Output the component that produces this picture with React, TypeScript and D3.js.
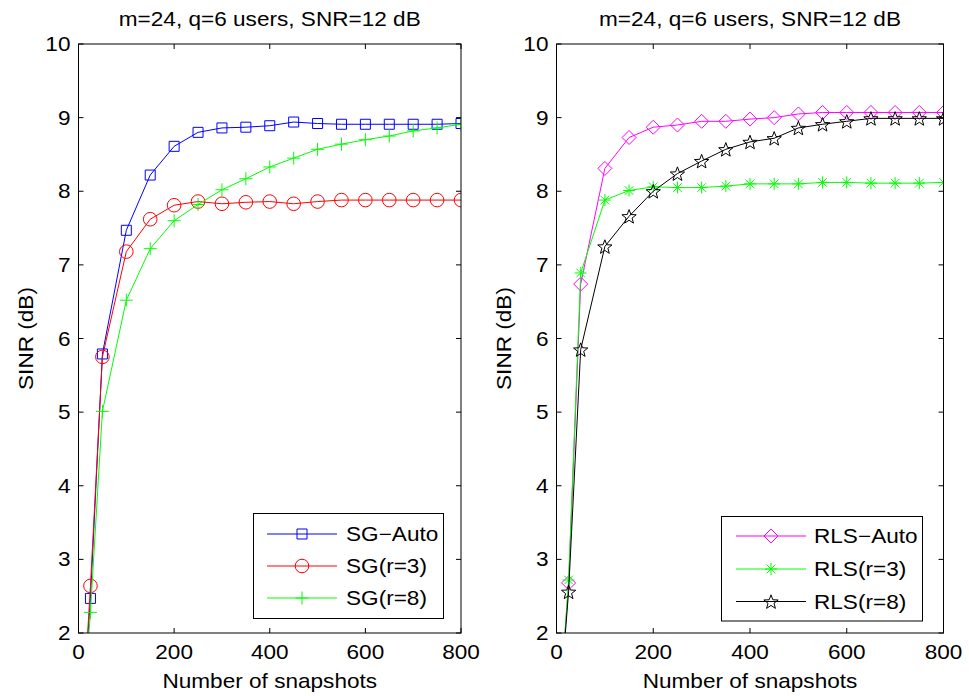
import React from "react";
import * as d3 from "d3";

const snapshots = [10, 25, 50, 100, 150, 200, 250, 300, 350, 400, 450, 500, 550, 600, 650, 700, 750, 800];

const sgAuto = [1.0, 2.47, 5.79, 7.47, 8.22, 8.61, 8.80, 8.86, 8.87, 8.89, 8.94, 8.92, 8.91, 8.91, 8.91, 8.91, 8.91, 8.92];
const sgR3 = [1.0, 2.64, 5.75, 7.18, 7.62, 7.81, 7.86, 7.83, 7.85, 7.86, 7.83, 7.86, 7.88, 7.88, 7.88, 7.88, 7.88, 7.88];
const sgR8 = [1.0, 2.28, 5.01, 6.52, 7.22, 7.60, 7.82, 8.02, 8.17, 8.33, 8.45, 8.57, 8.64, 8.70, 8.75, 8.82, 8.86, 8.91];

const rlsAuto = [1.3, 2.68, 6.74, 8.31, 8.73, 8.87, 8.90, 8.95, 8.95, 8.98, 9.00, 9.05, 9.07, 9.07, 9.07, 9.07, 9.07, 9.07];
const rlsR3 = [1.3, 2.72, 6.89, 7.88, 8.01, 8.06, 8.05, 8.05, 8.07, 8.10, 8.10, 8.10, 8.12, 8.12, 8.11, 8.11, 8.11, 8.12];
const rlsR8 = [1.3, 2.56, 5.85, 7.25, 7.66, 8.00, 8.24, 8.41, 8.57, 8.67, 8.72, 8.86, 8.91, 8.95, 8.99, 8.99, 8.99, 8.99];

const xTicks = [0, 200, 400, 600, 800];
const yTicks = [2, 3, 4, 5, 6, 7, 8, 9, 10];
const titleText = "m=24, q=6 users, SNR=12 dB";
const xLabel = "Number of snapshots";
const yLabel = "SINR (dB)";

type Series = { name: string; values: number[]; color: string; marker: string };

const leftSeries: Series[] = [
  { name: "SG\u2212Auto", values: sgAuto, color: "#0000ff", marker: "square" },
  { name: "SG(r=3)", values: sgR3, color: "#ff0000", marker: "circle" },
  { name: "SG(r=8)", values: sgR8, color: "#00ff00", marker: "plus" },
];
const rightSeries: Series[] = [
  { name: "RLS\u2212Auto", values: rlsAuto, color: "#ff00ff", marker: "diamond" },
  { name: "RLS(r=3)", values: rlsR3, color: "#00ff00", marker: "asterisk" },
  { name: "RLS(r=8)", values: rlsR8, color: "#000000", marker: "star" },
];

const FONT = "'Liberation Sans', Arial, Helvetica, sans-serif";
const FS = 20;
const SX = 1.13;

function T({ x, y, anchor = "start", rot = 0, children }: any) {
  return (
    <text
      transform={`translate(${x},${y}) rotate(${rot}) scale(${SX},1)`}
      textAnchor={anchor}
      fontFamily={FONT}
      fontSize={FS}
      fill="#000"
    >
      {children}
    </text>
  );
}

function markerPath(kind: string): string {
  switch (kind) {
    case "square": {
      const s = 5;
      return `M${-s},${-s}H${s}V${s}H${-s}Z`;
    }
    case "circle": {
      const r = 6.8;
      return `M${r},0A${r},${r} 0 1,1 ${-r},0A${r},${r} 0 1,1 ${r},0Z`;
    }
    case "plus": {
      const s = 6.5;
      return `M${-s},0H${s}M0,${-s}V${s}`;
    }
    case "diamond": {
      const s = 7;
      return `M0,${-s}L${s},0L0,${s}L${-s},0Z`;
    }
    case "asterisk": {
      const s = 6;
      const d = s * 0.72;
      return `M${-s},0H${s}M0,${-s}V${s}M${-d},${-d}L${d},${d}M${-d},${d}L${d},${-d}`;
    }
    case "star": {
      const outer = 7.5;
      const inner = outer * 0.42;
      let p = "";
      for (let i = 0; i < 10; i++) {
        const r = i % 2 === 0 ? outer : inner;
        const a = -Math.PI / 2 + (i * Math.PI) / 5;
        p += (i === 0 ? "M" : "L") + (r * Math.cos(a)).toFixed(2) + "," + (r * Math.sin(a) + 0.8).toFixed(2);
      }
      return p + "Z";
    }
  }
  return "";
}

type PanelProps = {
  id: string;
  left: number;
  right: number;
  series: Series[];
  legend: { x0: number; x1: number; y0: number; y1: number; rows: number[]; lx0: number; lx1: number; tx: number };
};

const TOP = 44;
const BOTTOM = 633;

function Panel({ id, left, right, series, legend }: PanelProps) {
  const x = d3.scaleLinear().domain([0, 800]).range([left, right]);
  const y = d3.scaleLinear().domain([2, 10]).range([BOTTOM, TOP]);
  const line = d3
    .line<number>()
    .x((_, i) => x(snapshots[i]))
    .y((v) => y(v));
  const cx = (left + right) / 2;
  const tick = 5;
  return (
    <g>
      <defs>
        <clipPath id={id}>
          <rect x={left} y={TOP} width={right - left} height={BOTTOM - TOP} />
        </clipPath>
      </defs>
      <rect x={left} y={TOP} width={right - left} height={BOTTOM - TOP} fill="#fff" />
      <g clipPath={`url(#${id})`}>
        {series.map((s) => (
          <g key={s.name}>
            <path d={line(s.values) || ""} fill="none" stroke={s.color} strokeWidth={1} />
            {s.values.map((v, i) => (
              <path
                key={i}
                transform={`translate(${x(snapshots[i])},${y(v)})`}
                d={markerPath(s.marker)}
                fill="none"
                stroke={s.color}
                strokeWidth={1}
              />
            ))}
          </g>
        ))}
      </g>
      {/* axes box */}
      <rect x={left} y={TOP} width={right - left} height={BOTTOM - TOP} fill="none" stroke="#000" strokeWidth={1} />
      {xTicks.map((t) => (
        <g key={"x" + t}>
          <line x1={x(t)} x2={x(t)} y1={BOTTOM} y2={BOTTOM - tick} stroke="#000" />
          <line x1={x(t)} x2={x(t)} y1={TOP} y2={TOP + tick} stroke="#000" />
          <T x={x(t)} y={659} anchor="middle">{t}</T>
        </g>
      ))}
      {yTicks.map((t) => (
        <g key={"y" + t}>
          <line x1={left} x2={left + tick} y1={y(t)} y2={y(t)} stroke="#000" />
          <line x1={right} x2={right - tick} y1={y(t)} y2={y(t)} stroke="#000" />
          <T x={left - 8} y={y(t) + 7} anchor="end">{t}</T>
        </g>
      ))}
      <T x={cx} y={26} anchor="middle">{titleText}</T>
      <T x={cx} y={688} anchor="middle">{xLabel}</T>
      <T x={left - 45.5} y={(TOP + BOTTOM) / 2 + 0} anchor="middle" rot={-90}>{yLabel}</T>
      {/* legend */}
      <rect
        x={legend.x0}
        y={legend.y0}
        width={legend.x1 - legend.x0}
        height={legend.y1 - legend.y0}
        fill="#fff"
        stroke="#000"
        strokeWidth={1}
      />
      {series.map((s, i) => (
        <g key={"lg" + s.name}>
          <line x1={legend.lx0} x2={legend.lx1} y1={legend.rows[i]} y2={legend.rows[i]} stroke={s.color} strokeWidth={1} />
          <path
            transform={`translate(${(legend.lx0 + legend.lx1) / 2},${legend.rows[i]})`}
            d={markerPath(s.marker)}
            fill="none"
            stroke={s.color}
            strokeWidth={1}
          />
          <T x={legend.tx} y={legend.rows[i] + 7}>{s.name}</T>
        </g>
      ))}
    </g>
  );
}

export default function App() {
  return (
    <svg width={969} height={696} style={{ display: "block", position: "absolute", left: 0, top: 0 }}>
      <rect x={0} y={0} width={969} height={696} fill="#fff" />
      <Panel
        id="clipL"
        left={78.5}
        right={461}
        series={leftSeries}
        legend={{ x0: 253.5, x1: 443.5, y0: 513.5, y1: 618.5, rows: [534, 566, 598], lx0: 267, lx1: 337, tx: 346 }}
      />
      <Panel
        id="clipR"
        left={556.5}
        right={943.5}
        series={rightSeries}
        legend={{ x0: 721.5, x1: 922.5, y0: 516.5, y1: 621, rows: [536, 569, 601.5], lx0: 736, lx1: 806, tx: 814 }}
      />
    </svg>
  );
}
